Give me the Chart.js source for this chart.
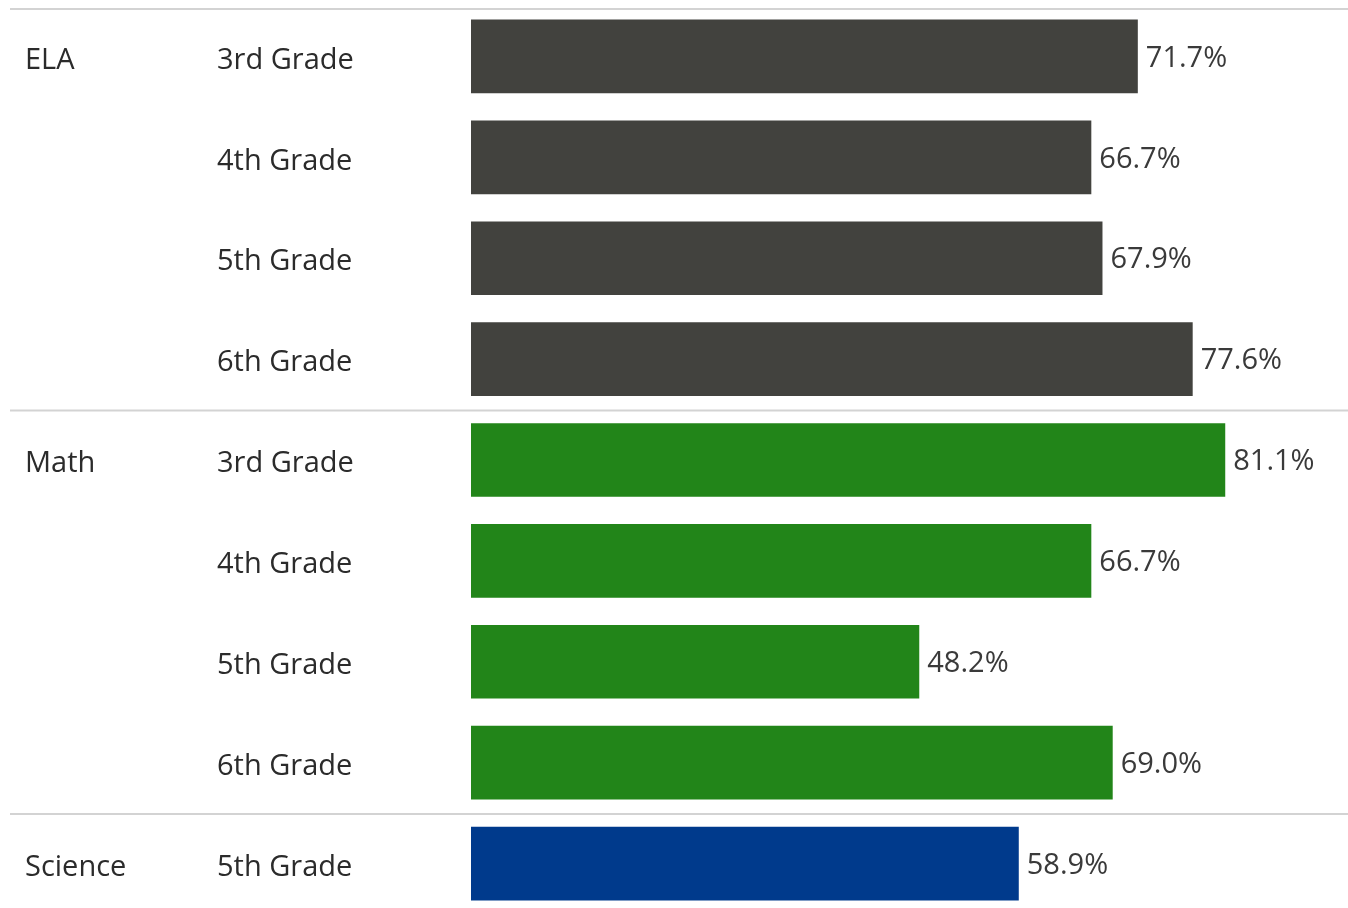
<!DOCTYPE html>
<html>
<head>
<meta charset="utf-8">
<script src="https://cdn.jsdelivr.net/npm/chart.js"></script>
<style>
  html, body { margin: 0; padding: 0; background: #fff; overflow: hidden; }
  #wrap { position: relative; width: 1348px; height: 914px; }
</style>
</head>
<body>
<div id="wrap"><canvas id="chart"></canvas></div>
<script>
// rows of the chart, top to bottom
const grades = ['3rd Grade', '4th Grade', '5th Grade', '6th Grade', '3rd Grade', '4th Grade', '5th Grade', '6th Grade', '5th Grade'];
const rowSubjects = ['ELA', 'ELA', 'ELA', 'ELA', 'Math', 'Math', 'Math', 'Math', 'Science'];
const proficiency = [71.7, 66.7, 67.9, 77.6, 81.1, 66.7, 48.2, 69.0, 58.9];

const subjectColors = { ELA: '#42423e', Math: '#228519', Science: '#003a8c' };
const labelFont = '29px "Open Sans", sans-serif';
const textColor = '#2b2b2b';

// draws subject / grade columns, group separators and value labels
const rowLabels = {
    id: 'rowLabels',
    afterDatasetsDraw(chart) {
        const ctx = chart.ctx;
        const y = chart.scales.y;
        const area = chart.chartArea;
        const bars = chart.getDatasetMeta(0).data;
        ctx.save();

        // separators
        ctx.strokeStyle = '#d3d3d3';
        ctx.lineWidth = 2;
        const lineAt = (py) => {
            ctx.beginPath();
            ctx.moveTo(10, py);
            ctx.lineTo(chart.width, py);
            ctx.stroke();
        };
        lineAt(area.top + 3);
        for (let i = 1; i < rowSubjects.length; i++) {
            if (rowSubjects[i] !== rowSubjects[i - 1]) {
                lineAt((y.getPixelForValue(i - 1) + y.getPixelForValue(i)) / 2 + 1);
            }
        }

        ctx.font = labelFont;
        ctx.fillStyle = textColor;
        ctx.textBaseline = 'middle';
        ctx.textAlign = 'left';
        grades.forEach((g, i) => {
            const py = y.getPixelForValue(i) + 4;
            ctx.fillText(g, 217, py);
            if (i === 0 || rowSubjects[i] !== rowSubjects[i - 1]) {
                ctx.fillText(rowSubjects[i], 25, py);
            }
        });

        ctx.fillStyle = '#3a3a3a';
        bars.forEach((bar, i) => {
            ctx.fillText(proficiency[i].toFixed(1) + '%', bar.x + 8, bar.y + 2);
        });
        ctx.restore();
    }
};

new Chart(document.getElementById('chart'), {
    type: 'bar',
    data: {
        labels: grades,
        datasets: [{
            data: proficiency,
            backgroundColor: rowSubjects.map(s => subjectColors[s]),
            barPercentage: 0.73,
            categoryPercentage: 1.0
        }]
    },
    options: {
        indexAxis: 'y',
        responsive: true,
        maintainAspectRatio: false,
        animation: false,
        layout: { padding: { left: 471, top: 6, right: 0, bottom: 0 } },
        plugins: { legend: { display: false }, tooltip: { enabled: false } },
        scales: {
            x: { display: false, min: 0, max: 94.3 },
            y: { display: false }
        }
    },
    plugins: [rowLabels]
});
</script>
</body>
</html>
